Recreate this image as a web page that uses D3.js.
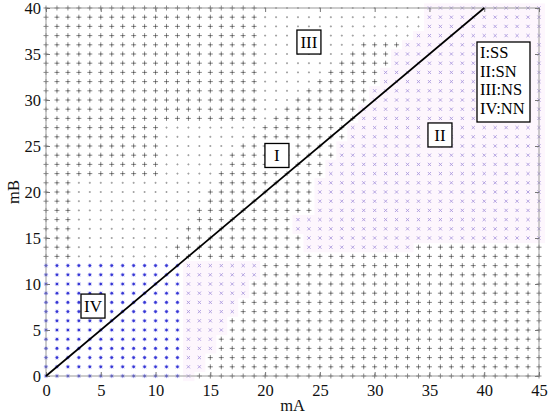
<!DOCTYPE html>
<html><head><meta charset="utf-8">
<script src="https://cdn.jsdelivr.net/npm/d3@7/dist/d3.min.js"></script>
<style>body{margin:0;background:#fff}svg{display:block}</style>
</head><body>
<svg id="c" width="550" height="420"></svg>
<script>
// ---- data ----
const mAValues = [0,1,2,3,4,5,6,7,8,9,10,11,12,13,14,15,16,17,18,19,20,21,22,23,24,25,26,27,28,29,30,31,32,33,34,35,36,37,38,39,40,41,42,43,44,45];
const mBValues = [40,39,38,37,36,35,34,33,32,31,30,29,28,27,26,25,24,23,22,21,20,19,18,17,16,15,14,13,12,11,10,9,8,7,6,5,4,3,2,1,0];
// marker class runs per mB row (top to bottom): p=plus, d=dot, x=cross (II), b=blue star (IV)
const rowRuns = [
 "p20 d15 x11","p20 d15 x11","p20 d15 x11","p20 d14 x12",
 "p20 d9 p4 x13","p20 d8 p4 x14","p20 d7 p5 x14","p20 d6 p5 x15",
 "p20 d5 p6 x15","p20 d4 p6 x16","p20 d3 p7 x16","p20 d2 p7 x17",
 "p20 d1 p8 x17","p11 d9 p8 x18","p11 d8 p9 x18","p11 d7 p9 x19",
 "p11 d6 p10 x19","p11 d6 p9 x20","p11 d5 p10 x20","p3 d13 p9 x21",
 "p3 d12 p10 x21","p3 d12 p10 x21","p3 d11 p11 x21","p3 d11 p9 x23",
 "p3 d10 p10 x23","p3 d10 p11 x22","p3 d9 p12 x10 p12","p3 d9 p34",
 "b13 x7 p26","b13 x7 p26","b13 x6 p27","b13 x6 p27","b13 x5 p28",
 "b13 x5 p28","b13 x4 p29","b13 x4 p29","b13 x3 p30","b13 x3 p30",
 "b13 x2 p31","b13 x2 p31","b13 x1 p32"
];
const xTicks = [0,5,10,15,20,25,30,35,40,45];
const yTicks = [0,5,10,15,20,25,30,35,40];
const diagLine = [[0,0],[40,40]];
const regionNames = ["I","II","III","IV"];
const regionMA = [21.08, 35.96, 24.0, 4.29];
const regionMB = [23.97, 26.2, 36.3, 7.6];
const legendLines = ["I:SS","II:SN","III:NS","IV:NN"];
const xTitle = "mA", yTitle = "mB";

// ---- build cells ----
const cells = [];
rowRuns.forEach((r, i) => {
  const mB = mBValues[i];
  let k = 0;
  r.split(" ").forEach(tok => {
    const c = tok[0], n = +tok.slice(1);
    for (let j = 0; j < n; j++) { cells.push({mA: mAValues[k], mB, c}); k++; }
  });
});

const svg = d3.select("#c");
const x = d3.scaleLinear().domain([0,45]).range([46,539]);
const y = d3.scaleLinear().domain([0,40]).range([376,8]);
const ux = x(1)-x(0), uy = y(0)-y(1);
const serif = "Liberation Serif";

// pale tint behind region II crosses
svg.append("g").selectAll("rect").data(cells.filter(d=>d.c==="x")).join("rect")
  .attr("x", d=>x(d.mA)-ux/2).attr("y", d=>y(d.mB)-uy/2)
  .attr("width", ux+0.5).attr("height", uy+0.5)
  .attr("fill", "#fdf6fd");

const g = svg.append("g");
function plus(sel, a, col, w){
  sel.append("path").attr("d", d=>{const X=x(d.mA),Y=y(d.mB);return `M${X-a},${Y}H${X+a}M${X},${Y-a}V${Y+a}`;})
   .attr("stroke", col).attr("stroke-width", w).attr("fill","none");
}
plus(g.selectAll(null).data(cells.filter(d=>d.c==="p")).enter(), 2.5, "#8a8a8a", 1);
g.selectAll(null).data(cells.filter(d=>d.c==="p")).enter().append("rect")
  .attr("x", d=>x(d.mA)-0.6).attr("y", d=>y(d.mB)-0.6).attr("width",1.2).attr("height",1.2).attr("fill","#555");
plus(g.selectAll(null).data(cells.filter(d=>d.c==="d")).enter(), 1.0, "#a0a0a0", 1);
g.selectAll(null).data(cells.filter(d=>d.c==="x")).enter().append("path")
  .attr("d", d=>{const X=x(d.mA),Y=y(d.mB),a=1.6;return `M${X-a},${Y-a}L${X+a},${Y+a}M${X-a},${Y+a}L${X+a},${Y-a}`;})
  .attr("stroke", "#ac9ade").attr("stroke-width", 0.9).attr("fill","none");
const blue = cells.filter(d=>d.c==="b");
g.selectAll(null).data(blue).enter().append("path")
  .attr("d", d=>{const X=x(d.mA),Y=y(d.mB),a=2.2,b=1.6;return `M${X-a},${Y}H${X+a}M${X},${Y-a}V${Y+a}M${X-b},${Y-b}L${X+b},${Y+b}M${X-b},${Y+b}L${X+b},${Y-b}`;})
  .attr("stroke", "#9a9aee").attr("stroke-width", 0.7).attr("fill","none");
g.selectAll(null).data(blue).enter().append("circle")
  .attr("cx", d=>x(d.mA)).attr("cy", d=>y(d.mB)).attr("r", 1.3).attr("fill", "#3434d4");

// frame
svg.append("rect").attr("x", x(0)).attr("y", y(40)).attr("width", x(45)-x(0)).attr("height", y(0)-y(40))
  .attr("fill","none").attr("stroke","#9a9a9a").attr("stroke-width",1);

// axes
function styleAxis(sel, showText){
  sel.attr("font-family", serif);
  sel.select(".domain").remove();
  sel.selectAll(".tick line").attr("stroke","#777");
  sel.selectAll(".tick text").attr("font-family", serif).attr("font-size", 16.5).attr("fill","#111");
  if(!showText) sel.selectAll(".tick text").remove();
}
svg.append("g").attr("transform",`translate(0,${y(0)})`)
  .call(d3.axisBottom(x).tickValues(xTicks).tickFormat(d3.format("d")).tickSizeInner(-4).tickPadding(8))
  .call(s=>styleAxis(s,true));
svg.append("g").attr("transform",`translate(0,${y(40)})`)
  .call(d3.axisTop(x).tickValues(xTicks).tickSizeInner(-4)).call(s=>styleAxis(s,false));
svg.append("g").attr("transform",`translate(${x(0)},0)`)
  .call(d3.axisLeft(y).tickValues(yTicks).tickFormat(d3.format("d")).tickSizeInner(-4).tickPadding(5))
  .call(s=>styleAxis(s,true));
svg.append("g").attr("transform",`translate(${x(45)},0)`)
  .call(d3.axisRight(y).tickValues(yTicks).tickSizeInner(-4)).call(s=>styleAxis(s,false));

// diagonal boundary line
svg.append("path").datum(diagLine)
  .attr("d", d3.line().x(d=>x(d[0])).y(d=>y(d[1])))
  .attr("stroke","#000").attr("stroke-width",1.7).attr("fill","none");

// region labels
regionNames.forEach((t,i)=>{
  const cx = x(regionMA[i]), cy = y(regionMB[i]);
  svg.append("rect").attr("x", cx-12).attr("y", cy-12).attr("width",24).attr("height",24)
    .attr("fill","#fff").attr("stroke","#000").attr("stroke-width",1.3);
  svg.append("text").attr("x", cx).attr("y", cy+6).attr("text-anchor","middle")
    .attr("font-family", serif).attr("font-size",17).attr("fill","#000").text(t);
});

// legend
svg.append("rect").attr("x",477).attr("y",42).attr("width",53).attr("height",80)
  .attr("fill","#fff").attr("stroke","#000").attr("stroke-width",1.3);
svg.append("g").selectAll("text").data(legendLines).join("text")
  .attr("x",480).attr("y",(d,i)=>58+i*18.5)
  .attr("font-family", serif).attr("font-size",16.5).attr("fill","#000").text(d=>d);

// axis titles
svg.append("text").attr("x",(x(0)+x(45))/2).attr("y",411).attr("text-anchor","middle")
  .attr("font-family", serif).attr("font-size",16.5).attr("fill","#111").text(xTitle);
svg.append("text").attr("transform",`translate(19,${(y(0)+y(40))/2}) rotate(-90)`).attr("text-anchor","middle")
  .attr("font-family", serif).attr("font-size",16.5).attr("fill","#111").text(yTitle);
</script>
</body></html>
